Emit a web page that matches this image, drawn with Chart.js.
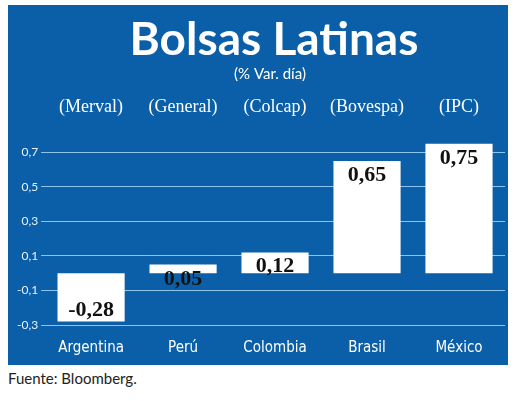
<!DOCTYPE html>
<html>
<head>
<meta charset="utf-8">
<script src="https://cdn.jsdelivr.net/npm/chart.js@4"></script>
<style>
  body { margin: 0; background: #fff; width: 520px; height: 401px; position: relative; overflow: hidden; }
  #panel { position: absolute; left: 8px; top: 5px; width: 500px; height: 360px; background: #0a5fa8; }
  #foot { position: absolute; left: 8px; top: 369px; font: 15px Lato, sans-serif; color: #222; }
</style>
</head>
<body>
<div id="panel"><canvas id="myChart" width="500" height="360"></canvas></div>
<div id="foot">Fuente: Bloomberg.</div>
<script>
const countries = ["Argentina", "Perú", "Colombia", "Brasil", "México"];
const indices = ["(Merval)", "(General)", "(Colcap)", "(Bovespa)", "(IPC)"];
const changes = [-0.28, 0.05, 0.12, 0.65, 0.75];

const fmt = v => v.toFixed(2).replace(".", ",");

// title, index names and value labels
const extras = {
  id: "extras",
  afterDraw(chart) {
    const ctx = chart.ctx;
    const x = chart.scales.x, y = chart.scales.y;
    ctx.save();
    ctx.textAlign = "center";
    ctx.fillStyle = "#fff";
    ctx.textBaseline = "alphabetic";
    ctx.font = "bold 46px Lato, sans-serif";
    ctx.fillText("Bolsas Latinas", 266, 50);
    ctx.font = "15px Lato, sans-serif";
    ctx.fillText("(% Var. día)", 262, 74);
    ctx.font = "18px 'Liberation Serif', serif";
    indices.forEach((t, i) => ctx.fillText(t, x.getPixelForValue(i), 107));
    ctx.fillStyle = "#111";
    ctx.font = "bold 22px 'Liberation Serif', serif";
    changes.forEach((v, i) => {
      const py = v < 0 ? y.getPixelForValue(v) - 6 : y.getPixelForValue(v) + 20;
      ctx.fillText(fmt(v), x.getPixelForValue(i), py);
    });
    ctx.restore();
  }
};

new Chart(document.getElementById("myChart"), {
  type: "bar",
  data: {
    labels: countries,
    datasets: [{ data: changes, backgroundColor: "#fff", categoryPercentage: 0.73, barPercentage: 1 }]
  },
  options: {
    responsive: false,
    animation: false,
    layout: { padding: { top: 130, right: 3, bottom: 2, left: 6 } },
    plugins: { legend: { display: false }, tooltip: { enabled: false } },
    scales: {
      x: {
        grid: { display: false },
        border: { display: false },
        ticks: { color: "#fff", font: { family: "'DejaVu Sans Condensed', sans-serif", size: 15 }, padding: 6 }
      },
      y: {
        min: -0.3, max: 0.8,
        border: { display: false },
        grid: {
          color: ctx => ctx.tick && Math.abs(ctx.tick.value) < 1e-9 ? "#fff" : "#8cc4ee",
          lineWidth: ctx => ctx.tick && Math.abs(ctx.tick.value) < 1e-9 ? 2 : 1,
          drawTicks: true, tickLength: 4
        },
        ticks: {
          stepSize: 0.1, color: "#e8f2fb",
          font: { family: "Lato, sans-serif", size: 12 },
          callback: v => Math.abs(v) < 1e-9 ? "0" : v.toFixed(1).replace(".", ",")
        }
      }
    }
  },
  plugins: [extras]
});
</script>
</body>
</html>
